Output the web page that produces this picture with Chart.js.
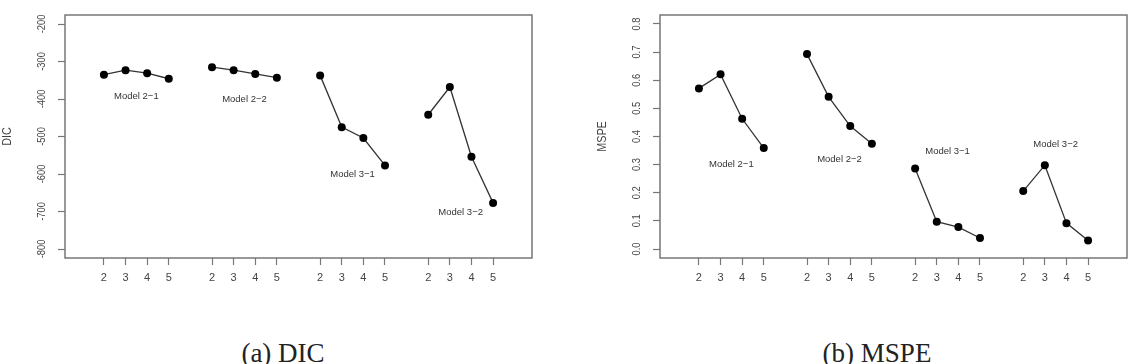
<!DOCTYPE html>
<html>
<head>
<meta charset="utf-8">
<script src="https://cdn.jsdelivr.net/npm/chart.js@4.4.0/dist/chart.umd.min.js"></script>
<style>
  html, body { margin: 0; padding: 0; background: #fff; }
  body { width: 1135px; height: 364px; position: relative; overflow: hidden; }
  .panel { position: absolute; top: 0; height: 300px; }
  .caption {
    position: absolute; top: 340px; width: 200px; text-align: center;
    font-family: "Liberation Serif", "DejaVu Serif", serif; font-size: 27px;
    line-height: 27px; color: #222; white-space: nowrap;
  }
</style>
</head>
<body>
<div class="panel" style="left:0;width:567px"><canvas id="dicChart" width="567" height="300"></canvas></div>
<div class="panel" style="left:567px;width:568px"><canvas id="mspeChart" width="568" height="300"></canvas></div>
<div class="caption" style="left:183px">(a) DIC</div>
<div class="caption" style="left:777px">(b) MSPE</div>

<script>
// позиции по оси x для каждой модели (группы по 4 точки)
const xPositions = [[1, 2, 3, 4], [6, 7, 8, 9], [11, 12, 13, 14], [16, 17, 18, 19]];
const xTickLabels = ['2', '3', '4', '5'];
const models = ['Model 2\u22121', 'Model 2\u22122', 'Model 3\u22121', 'Model 3\u22122'];

// значения DIC
const dicValues = [
  [-335, -323, -331, -346],
  [-315, -323, -333, -343],
  [-337, -475, -504, -577],
  [-442, -368, -554, -677],
];
const dicTicks = [-800, -700, -600, -500, -400, -300, -200];
const dicLabelY = [-393, -401, -600, -702];

// значения MSPE
const mspeValues = [
  [0.571, 0.621, 0.463, 0.359],
  [0.693, 0.541, 0.437, 0.374],
  [0.286, 0.097, 0.078, 0.039],
  [0.206, 0.298, 0.092, 0.030],
];
const mspeTicks = [0.0, 0.1, 0.2, 0.3, 0.4, 0.5, 0.6, 0.7, 0.8];
const mspeLabelY = [0.301, 0.319, 0.347, 0.371];

const xTickValues = xPositions.flat();
const textColor = '#444';
const boxColor = '#777';

// плагин: рамка, повернутые подписи оси y, название оси и подписи моделей
const rStylePlugin = {
  id: 'rStyle',
  afterDraw(chart, args, opts) {
    const { ctx, chartArea, scales } = chart;
    const x = scales.x, y = scales.y;
    ctx.save();

    // рамка вокруг области графика
    ctx.strokeStyle = boxColor;
    ctx.lineWidth = 1.5;
    ctx.strokeRect(chartArea.left, chartArea.top,
      chartArea.right - chartArea.left, chartArea.bottom - chartArea.top);

    // подписи делений оси y (повернуты и чуть сжаты, как в исходнике)
    ctx.fillStyle = textColor;
    ctx.font = '11px "Liberation Sans", Arial, sans-serif';
    ctx.textAlign = 'center';
    ctx.textBaseline = 'middle';
    y.ticks.forEach((t) => {
      const py = y.getPixelForValue(t.value);
      ctx.save();
      ctx.translate(chartArea.left - 23, py);
      ctx.rotate(-Math.PI / 2);
      ctx.scale(0.85, 1);
      ctx.fillText(opts.format(t.value), 0, 0);
      ctx.restore();
    });

    // название оси y
    ctx.save();
    ctx.font = '12px "Liberation Sans", Arial, sans-serif';
    ctx.translate(chartArea.left - opts.titleOffset, (chartArea.top + chartArea.bottom) / 2);
    ctx.rotate(-Math.PI / 2);
    ctx.scale(0.9, 1);
    ctx.fillText(opts.title, 0, 0);
    ctx.restore();

    // подписи моделей
    ctx.font = '9.5px "Liberation Sans", Arial, sans-serif';
    ctx.fillStyle = '#333';
    models.forEach((name, i) => {
      const g = xPositions[i];
      const cx = x.getPixelForValue((g[0] + g[g.length - 1]) / 2);
      ctx.fillText(name, cx, y.getPixelForValue(opts.labelY[i]));
    });
    ctx.restore();
  },
};

function createModelChart(canvasId, values, yTicks, yMin, yMax, opts) {
  const ctx = document.getElementById(canvasId).getContext('2d');

  const datasets = values.map((series, i) => ({
    label: models[i],
    data: series.map((v, j) => ({ x: xPositions[i][j], y: v })),
    borderColor: '#333',
    borderWidth: 1.3,
    pointRadius: 4,
    pointBackgroundColor: '#000',
    pointBorderColor: '#000',
    pointBorderWidth: 0,
    tension: 0,
  }));

  return new Chart(ctx, {
    type: 'line',
    data: { datasets },
    options: {
      responsive: false,
      animation: false,
      events: [],
      layout: { padding: { left: 0, right: opts.padRight, top: 15, bottom: 0 } },
      plugins: {
        legend: { display: false },
        tooltip: { enabled: false },
        rStyle: opts,
      },
      scales: {
        x: {
          type: 'linear',
          min: -0.8,
          max: 20.8,
          afterBuildTicks: (s) => { s.ticks = xTickValues.map((v) => ({ value: v })); },
          afterFit: (s) => { s.height = 42; },
          border: { display: false },
          grid: { drawOnChartArea: false, drawTicks: true, tickLength: 7, tickColor: boxColor, tickWidth: 1.2 },
          ticks: {
            autoSkip: false,
            maxRotation: 0,
            padding: 6,
            color: textColor,
            font: { family: '"Liberation Sans", Arial, sans-serif', size: 11 },
            callback: (value, index) => xTickLabels[index % xTickLabels.length],
          },
        },
        y: {
          type: 'linear',
          min: yMin,
          max: yMax,
          afterBuildTicks: (s) => { s.ticks = yTicks.map((v) => ({ value: v })); },
          afterFit: (s) => { s.width = opts.axisWidth; },
          border: { display: false },
          grid: { drawOnChartArea: false, drawTicks: true, tickLength: 7, tickColor: boxColor, tickWidth: 1.2 },
          ticks: { display: false },
        },
      },
    },
    plugins: [rStylePlugin],
  });
}

createModelChart('dicChart', dicValues, dicTicks, -824, -176, {
  axisWidth: 65,
  padRight: 35,
  title: 'DIC',
  titleOffset: 57,
  labelY: dicLabelY,
  format: (v) => String(v),
});

createModelChart('mspeChart', mspeValues, mspeTicks, -0.032, 0.832, {
  axisWidth: 93,
  padRight: 8,
  title: 'MSPE',
  titleOffset: 57,
  labelY: mspeLabelY,
  format: (v) => v.toFixed(1),
});
</script>
</body>
</html>
